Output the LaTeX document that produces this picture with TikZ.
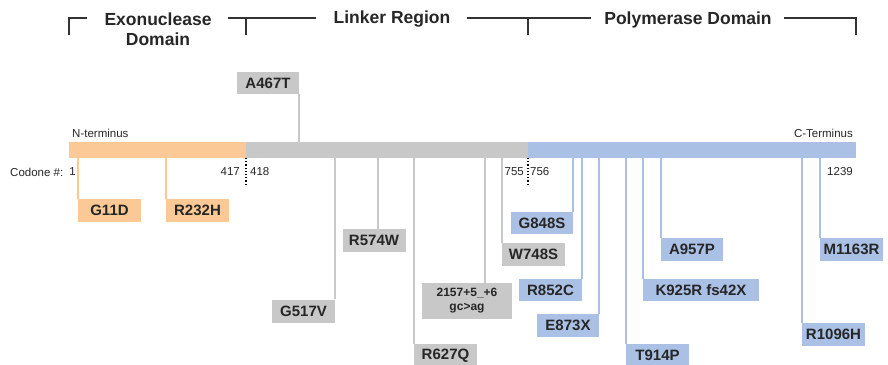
\documentclass[tikz,border=0pt]{standalone}
\usepackage{fontspec}
\setmainfont{Liberation Sans}
\usetikzlibrary{positioning}
\definecolor{exo}{RGB}{250,201,150}
\definecolor{lnk}{RGB}{200,200,200}
\definecolor{pol}{RGB}{170,193,229}

\begin{document}
\begin{tikzpicture}[x=1pt, y=-1pt,
  mut/.style={inner sep=0pt, minimum width=63pt, minimum height=23pt,
    font=\fontsize{15}{17}\selectfont\bfseries, text=black!85},
  stem/.style={line width=1.8pt},
  bar/.style={inner sep=0pt, outer sep=0pt, minimum height=16pt},
  head/.style={font=\fontsize{17.5}{20}\selectfont\bfseries, text=black!85, align=center},
  small/.style={font=\fontsize{11.5}{13}\selectfont, text=black!85, inner sep=0pt},
  bracket/.style={line width=2pt, black!80}]
  \useasboundingbox (0,0) rectangle (888,364);

  % domain headers
  \node[head] (exohead) at (158, 29) {Exonuclease\\Domain};
  \node[head] (lnkhead) at (392, 19) {Linker Region};
  \node[head] (polhead) at (688, 20) {Polymerase Domain};
  \draw[bracket] (69,35) -- (69,18) -- (87,18);
  \draw[bracket] (228,18) -- (316,18);
  \draw[bracket] (246,18) -- (246,35);
  \draw[bracket] (467,18) -- (591,18);
  \draw[bracket] (528,18) -- (528,35);
  \draw[bracket] (784,18) -- (856,18) -- (856,35);

  % protein bar
  \node[bar, fill=exo, minimum width=177pt] (ebar) at (157.5, 150) {};
  \node[bar, fill=lnk, minimum width=282pt] (lbar) at (387, 150) {};
  \node[bar, fill=pol, minimum width=328pt] (pbar) at (692, 150) {};
  \node[small, anchor=west] (nterm) at (72, 133) {N-terminus};
  \node[small, anchor=east] (cterm) at (853, 133) {C-Terminus};

  % codons
  \node[small, anchor=west] (codone) at (10, 172) {Codone \#:};
  \node[small, anchor=east] (c1) at (76, 172) {1};
  \node[small, anchor=east] (c417) at (240, 172) {417};
  \node[small, anchor=west] (c418) at (250, 172) {418};
  \node[small, anchor=east] (c755) at (524, 172) {755};
  \node[small, anchor=west] (c756) at (530, 172) {756};
  \node[small, anchor=east] (c1239) at (853, 172) {1239};
  \draw[dotted, line width=1.2pt] (ebar.south east) -- ++(0,27);
  \draw[dotted, line width=1.2pt] (lbar.south east) -- ++(0,27);

  % exonuclease mutations
  \node[mut, fill=exo] (g11d) at (109.5, 210.5) {G11D};
  \node[mut, fill=exo] (r232h) at (197.5, 210.5) {R232H};
  \draw[stem, exo] (g11d.north west |- ebar.south) -- (g11d.north west);
  \draw[stem, exo] (r232h.north west |- ebar.south) -- (r232h.north west);

  % linker mutations
  \node[mut, fill=lnk, minimum width=62pt, minimum height=22pt] (a467t) at (268, 83) {A467T};
  \node[mut, fill=lnk] (g517v) at (303.5, 311) {G517V};
  \node[mut, fill=lnk] (r574w) at (374, 240.5) {R574W};
  \node[mut, fill=lnk] (r627q) at (445.5, 355.5) {R627Q};
  \node[mut, fill=lnk, minimum width=90pt, minimum height=36pt, align=center,
    font=\fontsize{12}{14}\selectfont\bfseries] (splice) at (467, 301) {2157+5\_+6\\gc>ag};
  \node[mut, fill=lnk] (w748s) at (533.5, 254.5) {W748S};
  \draw[stem, lnk] (a467t.south east) -- (a467t.south east |- lbar.north);
  \draw[stem, lnk] (g517v.north east |- lbar.south) -- (g517v.north east);
  \draw[stem, lnk] ([xshift=4pt]r574w.north |- lbar.south) -- ([xshift=4pt]r574w.north);
  \draw[stem, lnk] (r627q.north west |- lbar.south) -- (r627q.north west);
  \draw[stem, lnk] ([xshift=18pt]splice.north |- lbar.south) -- ([xshift=18pt]splice.north);
  \draw[stem, lnk] (w748s.north west |- lbar.south) -- (w748s.north west);

  % polymerase mutations
  \node[mut, fill=pol, minimum width=62pt, minimum height=22pt] (g848s) at (542, 223) {G848S};
  \node[mut, fill=pol, minimum height=22pt] (r852c) at (550.5, 290) {R852C};
  \node[mut, fill=pol, minimum width=62pt] (e873x) at (568, 325.5) {E873X};
  \node[mut, fill=pol] (t914p) at (657.5, 355.5) {T914P};
  \node[mut, fill=pol, minimum width=116pt, minimum height=22pt] (k925r) at (701, 290) {K925R fs42X};
  \node[mut, fill=pol, minimum width=62pt] (a957p) at (692, 249.5) {A957P};
  \node[mut, fill=pol] (r1096h) at (833.5, 334.5) {R1096H};
  \node[mut, fill=pol] (m1163r) at (851.5, 249.5) {M1163R};
  \draw[stem, pol] (g848s.north east |- pbar.south) -- (g848s.north east);
  \draw[stem, pol] (r852c.north east |- pbar.south) -- (r852c.north east);
  \draw[stem, pol] (e873x.north east |- pbar.south) -- (e873x.north east);
  \draw[stem, pol] (t914p.north west |- pbar.south) -- (t914p.north west);
  \draw[stem, pol] (k925r.north west |- pbar.south) -- (k925r.north west);
  \draw[stem, pol] (a957p.north west |- pbar.south) -- (a957p.north west);
  \draw[stem, pol] (r1096h.north west |- pbar.south) -- (r1096h.north west);
  \draw[stem, pol] (m1163r.north west |- pbar.south) -- (m1163r.north west);
\end{tikzpicture}
\end{document}
